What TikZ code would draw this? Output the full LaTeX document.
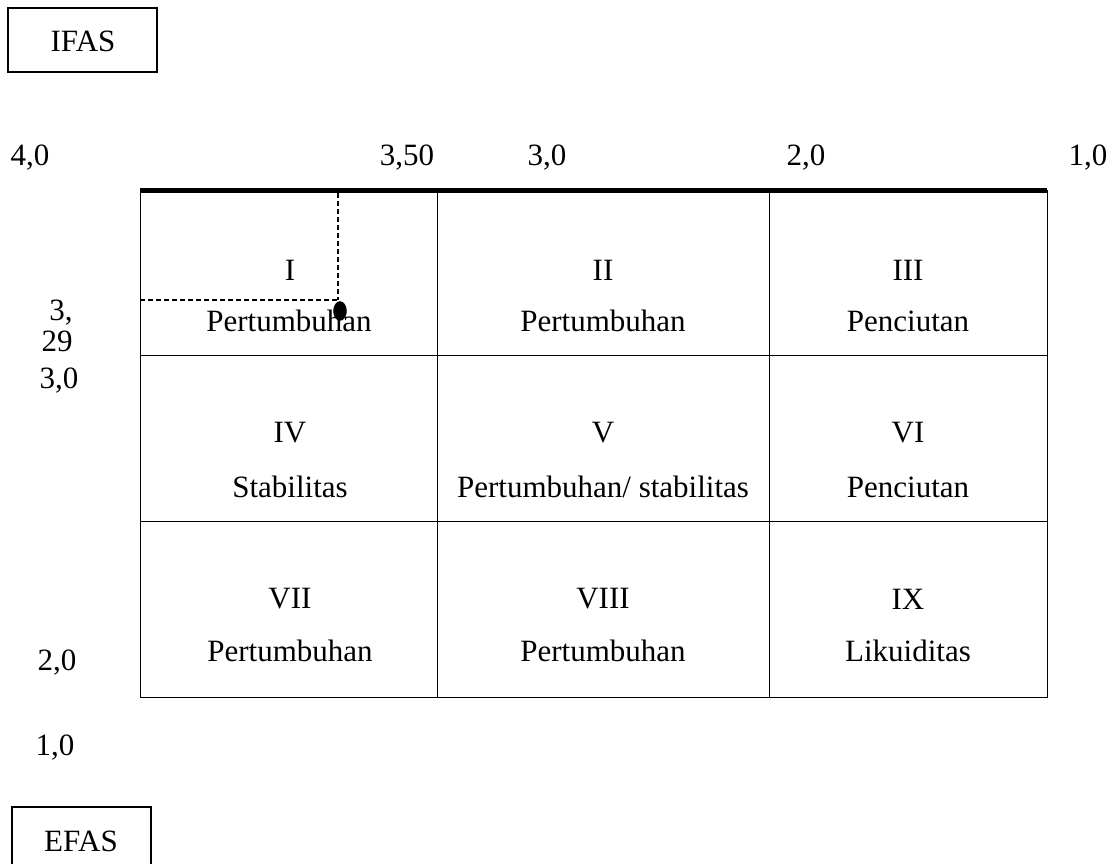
\documentclass[tikz,border=0pt]{standalone}
\usepackage{fontspec}
\setmainfont{Liberation Serif}
\usetikzlibrary{shapes.geometric}
\tikzset{
  lbl/.style={font=\fontsize{31}{36}\selectfont, inner sep=0pt, anchor=center},
  framebox/.style={draw, line width=2pt},
  grid/.style={draw, line width=0.9pt},
  guide/.style={dashed, line width=1.3pt, dash pattern=on 5pt off 3pt}
}
\begin{document}
\begin{tikzpicture}[x=1pt,y=-1pt]
\useasboundingbox (0,0) rectangle (1119,863);
\clip (0,0) rectangle (1119,863);
% IFAS / EFAS boxes
\draw[framebox] (8,8) rectangle (157,72);
\node[lbl] (ifas) at (83,41) {IFAS};
\draw[framebox] (12,880) -- (12,807) -- (151,807) -- (151,880);
\node[lbl] (efas) at (81,841) {EFAS};
% top axis labels
\node[lbl] (t40) at (30,158) {4,0};
\node[lbl] (t350) at (407,158) {3,50};
\node[lbl] (t30) at (547,158) {3,0};
\node[lbl] (t20) at (806,158) {2,0};
\node[lbl] (t10) at (1088,158) {1,0};
% left axis labels
\node[lbl] (l3a) at (61,313) {3,};
\node[lbl] (l3b) at (57,341) {29};
\node[lbl] (l30) at (59,381) {3,0};
\node[lbl] (l20) at (57,663) {2,0};
\node[lbl] (l10) at (55,748) {1,0};
% grid
\draw[grid] (140,190) rectangle (1047,697);
\draw[grid] (437,190) -- (437,697);
\draw[grid] (769,190) -- (769,697);
\draw[grid] (140,355) -- (1047,355);
\draw[grid] (140,521) -- (1047,521);
\draw[line width=5pt] (140,190.5) -- (1047,190.5);
% cell texts
\node[lbl] (c1a) at (290,270) {I};
\node[lbl] (c1b) at (289,321) {Pertumbuhan};
\node[lbl] (c2a) at (603,270) {II};
\node[lbl] (c2b) at (603,321) {Pertumbuhan};
\node[lbl] (c3a) at (908,270) {III};
\node[lbl] (c3b) at (908,321) {Penciutan};
\node[lbl] (c4a) at (290,433) {IV};
\node[lbl] (c4b) at (290,487) {Stabilitas};
\node[lbl] (c5a) at (603,433) {V};
\node[lbl] (c5b) at (603,487) {Pertumbuhan/ stabilitas};
\node[lbl] (c6a) at (908,433) {VI};
\node[lbl] (c6b) at (908,487) {Penciutan};
\node[lbl] (c7a) at (290,599) {VII};
\node[lbl] (c7b) at (290,651) {Pertumbuhan};
\node[lbl] (c8a) at (603,599) {VIII};
\node[lbl] (c8b) at (603,651) {Pertumbuhan};
\node[lbl] (c9a) at (908,599) {IX};
\node[lbl] (c9b) at (908,651) {Likuiditas};
% position point
\node[draw, fill=black, ellipse, minimum width=13pt, minimum height=19pt, inner sep=0pt] (pt) at (340,311) {};
\coordinate (vtop) at (338,193);
\coordinate (hleft) at (140,300);
\coordinate (corner) at (338,300);
\draw[guide] (vtop) -- (corner);
\draw[guide] (hleft) -- (corner);
\end{tikzpicture}
\end{document}
